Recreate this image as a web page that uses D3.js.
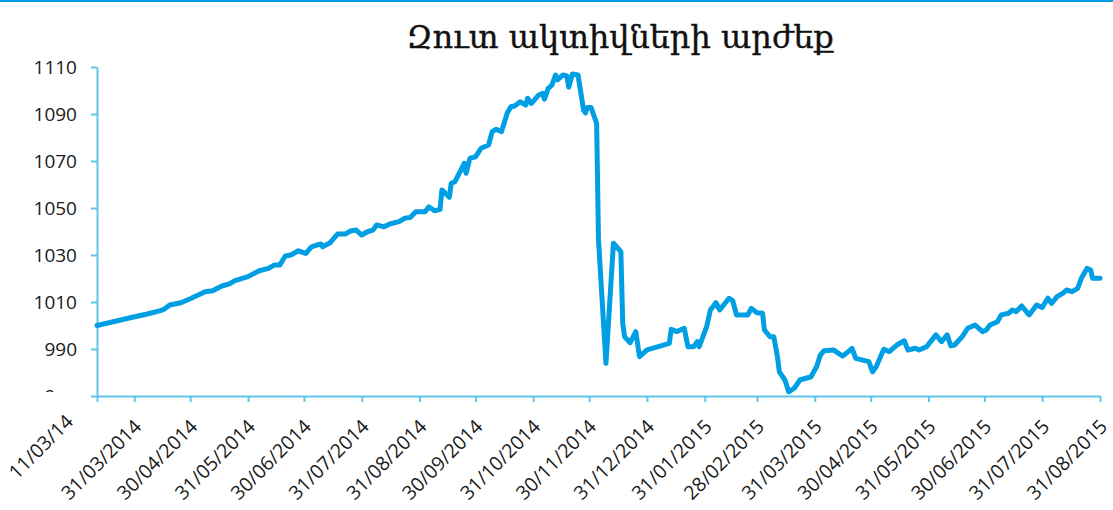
<!DOCTYPE html>
<meta charset="utf-8">
<style>

    body {
        margin: 0;
        background: #fff;
    }

    .line {
        fill: none;
        stroke: #009fe3;
        stroke-width: 5px;
        stroke-linejoin: round;
        stroke-linecap: round;
    }

    .axis path,
    .axis line {
        stroke: #62c3ec;
        stroke-width: 2px;
    }

    .axis text {
        font-family: "Open Sans", sans-serif;
        font-size: 19px;
        fill: #1a1a1a;
    }

    .axis--x text {
        font-size: 19.5px;
    }

    .title {
        font-family: "DejaVu Serif", serif;
        font-size: 32px;
        fill: #111;
        stroke: #111;
        stroke-width: 0.4px;
    }

</style>
<svg width="1113" height="510"></svg>
<script src="https://d3js.org/d3.v7.min.js"></script>
<script>

    // net asset value
    var dates = [
        "2014-03-11", "2014-03-22", "2014-03-30", "2014-04-07", "2014-04-14", "2014-04-16", "2014-04-19", "2014-04-25", "2014-04-30", "2014-05-08",
        "2014-05-12", "2014-05-17", "2014-05-21", "2014-05-24", "2014-05-31", "2014-06-06", "2014-06-11", "2014-06-14", "2014-06-17", "2014-06-20",
        "2014-06-23", "2014-06-27", "2014-07-01", "2014-07-04", "2014-07-09", "2014-07-10", "2014-07-14", "2014-07-18", "2014-07-22", "2014-07-25",
        "2014-07-28", "2014-07-31", "2014-08-03", "2014-08-06", "2014-08-08", "2014-08-12", "2014-08-15", "2014-08-20", "2014-08-23", "2014-08-26",
        "2014-08-29", "2014-09-03", "2014-09-05", "2014-09-08", "2014-09-11", "2014-09-12", "2014-09-16", "2014-09-17", "2014-09-19", "2014-09-24",
        "2014-09-25", "2014-09-27", "2014-09-30", "2014-10-03", "2014-10-07", "2014-10-09", "2014-10-11", "2014-10-14", "2014-10-17", "2014-10-19",
        "2014-10-21", "2014-10-24", "2014-10-27", "2014-10-28", "2014-10-30", "2014-11-03", "2014-11-05", "2014-11-06", "2014-11-08", "2014-11-10",
        "2014-11-12", "2014-11-13", "2014-11-16", "2014-11-18", "2014-11-19", "2014-11-21", "2014-11-24", "2014-11-27", "2014-11-28", "2014-11-29",
        "2014-12-01", "2014-12-04", "2014-12-05", "2014-12-09", "2014-12-13", "2014-12-17", "2014-12-18", "2014-12-19", "2014-12-22", "2014-12-25",
        "2014-12-27", "2014-12-31", "2015-01-12", "2015-01-13", "2015-01-16", "2015-01-20", "2015-01-22", "2015-01-25", "2015-01-27", "2015-01-28",
        "2015-02-01", "2015-02-03", "2015-02-06", "2015-02-08", "2015-02-13", "2015-02-15", "2015-02-17", "2015-02-23", "2015-02-25", "2015-02-28",
        "2015-03-03", "2015-03-04", "2015-03-07", "2015-03-09", "2015-03-11", "2015-03-12", "2015-03-15", "2015-03-17", "2015-03-20", "2015-03-23",
        "2015-03-29", "2015-04-01", "2015-04-03", "2015-04-05", "2015-04-10", "2015-04-15", "2015-04-18", "2015-04-20", "2015-04-22", "2015-04-29",
        "2015-05-01", "2015-05-03", "2015-05-07", "2015-05-10", "2015-05-14", "2015-05-18", "2015-05-20", "2015-05-24", "2015-05-26", "2015-05-30",
        "2015-06-04", "2015-06-07", "2015-06-10", "2015-06-12", "2015-06-14", "2015-06-18", "2015-06-21", "2015-06-25", "2015-06-29", "2015-07-01",
        "2015-07-03", "2015-07-07", "2015-07-09", "2015-07-13", "2015-07-15", "2015-07-17", "2015-07-20", "2015-07-24", "2015-07-28", "2015-07-31",
        "2015-08-03", "2015-08-05", "2015-08-08", "2015-08-11", "2015-08-13", "2015-08-16", "2015-08-19", "2015-08-21", "2015-08-24", "2015-08-26",
        "2015-08-27", "2015-08-31"
    ];

    var values = [
        1000.0, 1002.0, 1003.5, 1004.9, 1006.3, 1006.9, 1008.7, 1009.7, 1011.4, 1014.4,
        1014.8, 1016.8, 1017.7, 1019.1, 1020.8, 1023.3, 1024.3, 1025.7, 1025.7, 1029.6,
        1030.0, 1031.8, 1030.7, 1033.5, 1034.7, 1033.5, 1035.2, 1038.9, 1038.9, 1040.2,
        1040.6, 1038.5, 1039.9, 1040.6, 1042.8, 1042.0, 1043.2, 1044.2, 1045.6, 1046.0,
        1048.4, 1048.4, 1050.5, 1048.8, 1049.4, 1057.7, 1054.6, 1060.5, 1061.2, 1069.0,
        1064.8, 1071.1, 1071.8, 1075.4, 1076.8, 1082.5, 1083.5, 1082.5, 1090.3, 1093.1,
        1093.4, 1095.2, 1093.8, 1096.7, 1094.5, 1098.1, 1098.8, 1096.3, 1100.9, 1102.3,
        1106.6, 1104.5, 1106.6, 1106.2, 1101.4, 1107.0, 1106.6, 1091.7, 1090.5, 1092.8,
        1092.8, 1086.0, 1036.4, 983.9, 1035.0, 1031.4, 1000.9, 995.2, 992.7, 997.4,
        986.7, 989.6, 992.4, 998.4, 997.4, 998.8, 991.0, 991.0, 993.1, 991.0,
        999.5, 1006.6, 1009.7, 1006.6, 1011.6, 1010.6, 1004.5, 1004.5, 1007.3, 1005.4,
        1005.2, 998.1, 995.2, 995.2, 986.7, 980.3, 976.8, 971.8, 973.3, 976.8,
        978.2, 982.5, 987.4, 989.3, 989.6, 987.0, 988.9, 990.3, 986.0, 984.6,
        980.3, 982.5, 989.9, 988.9, 991.7, 993.5, 989.6, 990.3, 989.6, 991.0,
        996.0, 993.1, 996.0, 991.3, 991.7, 995.2, 998.8, 1000.2, 997.4, 998.1,
        1000.2, 1001.6, 1004.5, 1005.2, 1006.6, 1005.9, 1008.3, 1004.5, 1008.7, 1007.7,
        1011.6, 1009.4, 1012.3, 1013.7, 1015.1, 1014.4, 1015.8, 1020.1, 1024.3, 1023.6,
        1020.1, 1020.1
    ];

    var yTicks = [970, 990, 1010, 1030, 1050, 1070, 1090, 1110];

    var xTickDates = [
        "2014-03-11", "2014-03-31", "2014-04-30", "2014-05-31", "2014-06-30", "2014-07-31",
        "2014-08-31", "2014-09-30", "2014-10-31", "2014-11-30", "2014-12-31", "2015-01-31",
        "2015-02-28", "2015-03-31", "2015-04-30", "2015-05-31", "2015-06-30", "2015-07-31", "2015-08-31"
    ];

    var xTickLabels = [
        "11/03/14", "31/03/2014", "30/04/2014", "31/05/2014", "30/06/2014", "31/07/2014",
        "31/08/2014", "30/09/2014", "31/10/2014", "30/11/2014", "31/12/2014", "31/01/2015",
        "28/02/2015", "31/03/2015", "30/04/2015", "31/05/2015", "30/06/2015", "31/07/2015", "31/08/2015"
    ];

    var title = "Զուտ ակտիվների արժեք";

    var parseDate = d3.timeParse("%Y-%m-%d");

    var data = dates.map(function(d, i) {
        return {date: parseDate(d), value: values[i]};
    });

    var svg = d3.select("svg"),
        margin = {top: 67, right: 13, bottom: 114, left: 97},
        width = +svg.attr("width") - margin.left - margin.right,
        height = +svg.attr("height") - margin.top - margin.bottom;

    // thin blue rule along the top edge
    svg.append("rect")
        .attr("x", 0)
        .attr("y", 0)
        .attr("width", +svg.attr("width"))
        .attr("height", 2)
        .attr("fill", "#009fe3");

    svg.append("text")
        .attr("class", "title")
        .attr("x", 620)
        .attr("y", 48)
        .attr("text-anchor", "middle")
        .text(title);

    var x = d3.scaleTime()
        .domain([parseDate(xTickDates[0]), parseDate(xTickDates[xTickDates.length - 1])])
        .range([0, width]);

    var y = d3.scaleLinear()
        .domain([970, 1110])
        .range([height, 0]);

    var g = svg.append("g")
        .attr("transform", "translate(" + margin.left + "," + margin.top + ")");

    var defs = svg.append("defs");
    defs.append("clipPath")
        .attr("id", "clip-970")
        .append("rect")
        .attr("x", -60)
        .attr("y", -20)
        .attr("width", 17)
        .attr("height", 15.5);

    // y axis
    var yAxis = g.append("g")
        .attr("class", "axis axis--y")
        .call(d3.axisLeft(y)
            .tickValues(yTicks)
            .tickFormat(d3.format("d"))
            .tickSize(6)
            .tickSizeOuter(0)
            .tickPadding(14));

    yAxis.selectAll(".tick text")
        .attr("dy", "0.34em")
        .filter(function(d) { return d === 970; })
        .attr("clip-path", "url(#clip-970)");

    // x axis
    var xAxis = g.append("g")
        .attr("class", "axis axis--x")
        .attr("transform", "translate(0," + height + ")")
        .call(d3.axisBottom(x)
            .tickValues(xTickDates.map(parseDate))
            .tickSize(6)
            .tickSizeOuter(0)
            .tickFormat(function(d, i) { return xTickLabels[i]; }));

    xAxis.selectAll(".tick text")
        .attr("x", 0)
        .attr("y", 0)
        .attr("dy", "0.35em")
        .attr("text-anchor", "end")
        .attr("transform", function(d, i) {
            return i === 0 ? "translate(-28,22) rotate(-45)" : "translate(3,27) rotate(-45)";
        });

    // the series
    var line = d3.line()
        .x(function(d) { return x(d.date); })
        .y(function(d) { return y(d.value); });

    g.append("path")
        .datum(data)
        .attr("class", "line")
        .attr("d", line);

</script>
